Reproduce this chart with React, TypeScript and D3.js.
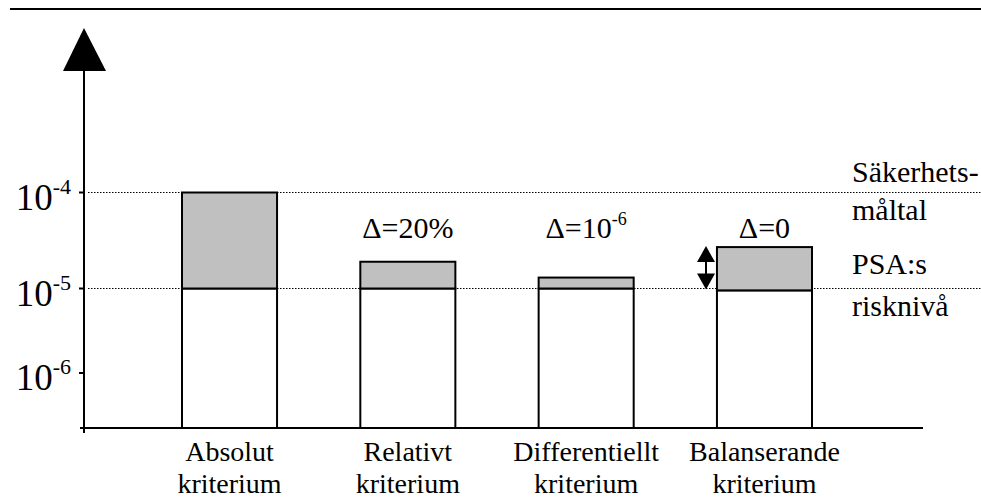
import React from "react";
import * as d3 from "d3";

const categories = ["Absolut kriterium", "Relativt kriterium", "Differentiellt kriterium", "Balanserande kriterium"];
const baseValues = [1e-5, 1e-5, 1e-5, 0.95e-5];
const topValues = [1e-4, 1.9e-5, 1.3e-5, 2.7e-5];
const deltaLabels = [null, ["Δ=20%", ""], ["Δ=10", "-6"], ["Δ=0", ""]];
const tickValues = [1e-4, 1e-5, 1e-6];
const tickExponents = ["-4", "-5", "-6"];
const refLevels = [1e-4, 1e-5];
const refLabels = [["Säkerhets-", "måltal"], ["PSA:s", "risknivå"]];
const axisMin = 2.2e-7;

const W = 981;
const H = 502;
const textStyle: React.CSSProperties = { fontFamily: "'Liberation Serif', 'Times New Roman', serif" };

export default function App() {
  const y = d3.scaleLog().domain([axisMin, 1e-6, 1e-5, 1e-4]).range([428, 373, 288.5, 192.5]);
  const x = d3.scaleBand<string>().domain(categories).range([182, 812]).paddingInner(0.467);
  const axisX = 84;
  const bw = x.bandwidth();
  const refLabelOffsets = [[-11, 27], [-15, 27]];

  return (
    <svg width={W} height={H} style={{ position: "absolute", left: 0, top: 0, ...textStyle }}>
      <rect width={W} height={H} fill="#fff" />
      {/* top rule */}
      <line x1={10} x2={W} y1={9} y2={9} stroke="#000" strokeWidth={2} />

      {/* reference dotted lines */}
      {refLevels.map((v, i) => (
        <line key={i} x1={88} x2={W} y1={y(v)} y2={y(v)} stroke="#000" strokeWidth={1} strokeDasharray="1.5,1.5" />
      ))}

      {/* bars */}
      {categories.map((c, i) => (
        <g key={c}>
          <rect x={x(c)} y={y(baseValues[i])} width={bw} height={y(axisMin) - y(baseValues[i])} fill="#fff" stroke="#000" strokeWidth={2} />
          <rect x={x(c)} y={y(topValues[i])} width={bw} height={y(baseValues[i]) - y(topValues[i])} fill="#c0c0c0" stroke="#000" strokeWidth={2} />
        </g>
      ))}

      {/* axes */}
      <line x1={axisX} x2={axisX} y1={70} y2={433} stroke="#000" strokeWidth={2} />
      <path d={`M${axisX},28 L${axisX - 21},71 L${axisX + 22},71 Z`} fill="#000" />
      <line x1={80} x2={923} y1={y(axisMin)} y2={y(axisMin)} stroke="#000" strokeWidth={2} />

      {/* ticks */}
      {tickValues.map((v, i) => (
        <g key={i}>
          <line x1={79} x2={axisX} y1={y(v)} y2={y(v)} stroke="#000" strokeWidth={2} />
          <text x={71} y={y(v) + 17} textAnchor="end" fontSize={37} fill="#000" style={textStyle}>
            <tspan>10</tspan>
            <tspan fontSize={22} dy={-16}>{tickExponents[i]}</tspan>
          </text>
        </g>
      ))}

      {/* delta labels */}
      {categories.map((c, i) => {
        const d = deltaLabels[i];
        if (!d) return null;
        return (
          <text key={c} x={(x(c) as number) + bw / 2} y={238} textAnchor="middle" fontSize={30} fill="#000" style={textStyle}>
            <tspan>{d[0]}</tspan>
            {d[1] ? <tspan fontSize={18} dy={-13}>{d[1]}</tspan> : null}
          </text>
        );
      })}

      {/* double arrow on last bar */}
      {(() => {
        const ax = 706;
        const t = y(topValues[3]) - 1;
        const b = y(baseValues[3]) - 1;
        return (
          <g>
            <line x1={ax} x2={ax} y1={t + 10} y2={b - 10} stroke="#000" strokeWidth={2} />
            <path d={`M${ax},${t} L${ax - 9},${t + 16} L${ax + 9},${t + 16} Z`} fill="#000" />
            <path d={`M${ax},${b} L${ax - 9},${b - 16} L${ax + 9},${b - 16} Z`} fill="#000" />
          </g>
        );
      })()}

      {/* right labels */}
      {refLevels.map((v, i) => (
        <text key={i} fontSize={30} fill="#000" style={textStyle}>
          <tspan x={852} y={y(v) + refLabelOffsets[i][0]}>{refLabels[i][0]}</tspan>
          <tspan x={852} y={y(v) + refLabelOffsets[i][1]}>{refLabels[i][1]}</tspan>
        </text>
      ))}

      {/* category labels */}
      {categories.map((c) => {
        const parts = c.split(" ");
        const cx = (x(c) as number) + bw / 2;
        return (
          <g key={c}>
            <text x={cx} y={461} fontSize={28} textAnchor="middle" fill="#000" style={textStyle}>{parts[0]}</text>
            <text x={cx} y={493} fontSize={28} textAnchor="middle" fill="#000" style={textStyle}>{parts[1]}</text>
          </g>
        );
      })}
    </svg>
  );
}
